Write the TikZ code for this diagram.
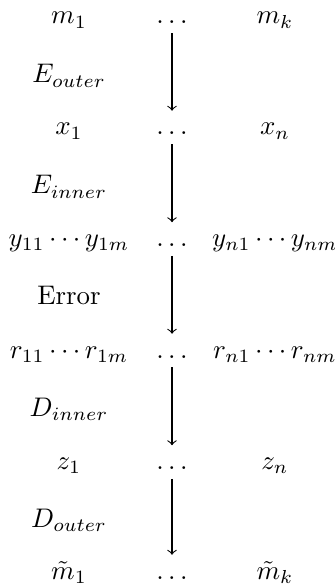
\documentclass[tikz,border=0pt]{standalone}
\begin{document}
\begin{tikzpicture}[x=0.372pt,y=-0.372pt,
  cell/.style={anchor=base,inner sep=3.33pt},
  dotcell/.style={anchor=base,inner sep=3.33pt,text height=5.5pt,text depth=0pt},
  flow/.style={->,line width=0.4pt}]
\useasboundingbox (0,0) rectangle (335,586);
% text rows
\node[cell] (a1) at (69,24) {$m_1$};
\node[dotcell] (d1) at (172,24) {$\dots$};
\node[cell] (b1) at (275,24) {$m_k$};
\node[cell] (l1) at (69,83) {$E_{outer}$};
\node[cell] (a2) at (69,135) {$x_1$};
\node[dotcell] (d2) at (172,135) {$\dots$};
\node[cell] (b2) at (275,135) {$x_n$};
\node[cell] (l2) at (69,194) {$E_{inner}$};
\node[cell] (a3) at (69,246.5) {$y_{11}\cdots y_{1m}$};
\node[dotcell] (d3) at (172,246.5) {$\dots$};
\node[cell] (b3) at (275,246.5) {$y_{n1}\cdots y_{nm}$};
\node[cell] (l3) at (69,305) {Error};
\node[cell] (a4) at (69,358) {$r_{11}\cdots r_{1m}$};
\node[dotcell] (d4) at (172,358) {$\dots$};
\node[cell] (b4) at (275,358) {$r_{n1}\cdots r_{nm}$};
\node[cell] (l4) at (69,416) {$D_{inner}$};
\node[cell] (a5) at (69,469.5) {$z_1$};
\node[dotcell] (d5) at (172,469.5) {$\dots$};
\node[cell] (b5) at (275,469.5) {$z_n$};
\node[cell] (l5) at (69,527) {$D_{outer}$};
\node[cell] (a6) at (69,579) {$\tilde{m}_1$};
\node[dotcell] (d6) at (172,579) {$\dots$};
\node[cell] (b6) at (275,579) {$\tilde{m}_k$};
% arrows
\draw[flow] (d1.south) -- (d2.north);
\draw[flow] (d2.south) -- (d3.north);
\draw[flow] (d3.south) -- (d4.north);
\draw[flow] (d4.south) -- (d5.north);
\draw[flow] (d5.south) -- (d6.north);
\end{tikzpicture}
\end{document}
